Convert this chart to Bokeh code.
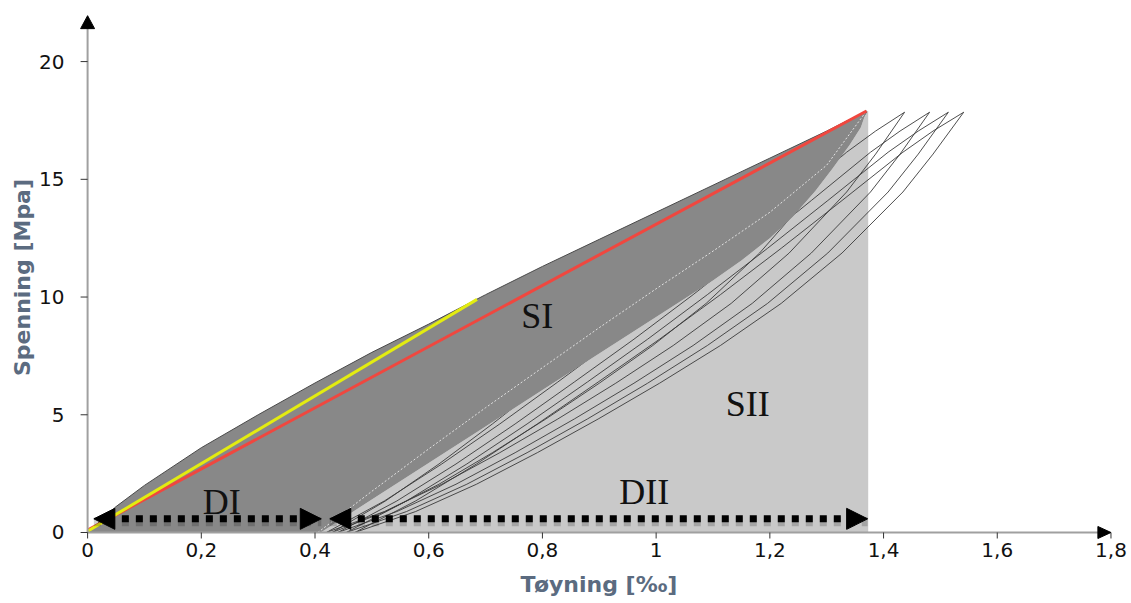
from bokeh.plotting import figure
from bokeh.models import Range1d, FixedTicker, Arrow, NormalHead
from bokeh.core.properties import value
from bokeh.embed import file_html
from bokeh.resources import INLINE

# ---------------- data ----------------
x_ticks = [0, 0.2, 0.4, 0.6, 0.8, 1.0, 1.2, 1.4, 1.6, 1.8]
x_tick_labels = ["0", "0,2", "0,4", "0,6", "0,8", "1", "1,2", "1,4", "1,6", "1,8"]
y_ticks = [0, 5, 10, 15, 20]
y_tick_labels = ["0", "5", "10", "15", "20"]
x_title = "Tøyning [‰]"
y_title = "Spenning [Mpa]"

# SI region (first cycle): loading curve (upper) and dark/light boundary (lower)
si_upper_x = [0, 0.05, 0.1, 0.2, 0.3, 0.4, 0.5, 0.6, 0.7, 0.8, 0.9, 1.0, 1.1, 1.2, 1.3, 1.37]
si_upper_y = [0, 1.1, 2.0, 3.6, 5.0, 6.35, 7.65, 8.85, 10.1, 11.3, 12.45, 13.6, 14.75, 15.9, 17.05, 17.9]
si_lower_x = [0.41, 0.5, 0.6, 0.7, 0.8, 0.9, 1.0, 1.1, 1.15, 1.2, 1.24, 1.28, 1.31, 1.34, 1.36, 1.37]
si_lower_y = [0, 1.4, 2.95, 4.5, 6.05, 7.6, 9.15, 10.7, 11.55, 12.5, 13.4, 14.5, 15.45, 16.45, 17.2, 17.9]
sii_right_x = 1.373

# unloading curve inside SI (dotted)
unload_x = [0.405, 0.5, 0.6, 0.7, 0.8, 0.9, 1.0, 1.1, 1.2, 1.3, 1.37]
unload_y = [0, 1.75, 3.55, 5.3, 7.0, 8.7, 10.35, 11.95, 13.6, 15.6, 17.9]

# secant lines
red_x = [0, 1.37]
red_y = [0.1, 17.9]
yellow_x = [0, 0.685]
yellow_y = [0.05, 9.9]

# later hysteresis loops (loading branch y, unloading branch y, strain grid per loop)
loop_up_y = [0, 1.34, 2.91, 4.61, 6.39, 8.21, 10.10, 12.07, 14.10, 16.15, 17.05, 17.85]
loop_dn_y = [0, 0.89, 2.05, 3.39, 4.82, 6.34, 7.94, 9.73, 11.87, 14.46, 16.07, 17.85]
loopA_x = [0.42, 0.522, 0.623, 0.725, 0.827, 0.929, 1.030, 1.132, 1.234, 1.335, 1.386, 1.437]
loopB_x = [0.44, 0.544, 0.648, 0.752, 0.856, 0.961, 1.065, 1.169, 1.273, 1.377, 1.429, 1.481]
loopC_x = [0.455, 0.561, 0.667, 0.773, 0.879, 0.985, 1.090, 1.196, 1.302, 1.408, 1.461, 1.514]
loopD_x = [0.47, 0.577, 0.684, 0.791, 0.898, 1.006, 1.113, 1.220, 1.327, 1.434, 1.487, 1.541]
loopE_x = [0.43, 0.524, 0.618, 0.712, 0.806, 0.900, 0.994, 1.088, 1.182, 1.276, 1.323, 1.37]

# dimension arrows
di_x = [0.011, 0.411]
dii_x = [0.426, 1.372]
dim_arrow_y = 0.58

# region labels
region_text = ["DI", "DII", "SI", "SII"]
region_x = [0.236, 0.979, 0.791, 1.161]
region_y = [1.30, 1.70, 9.21, 5.45]

# ---------------- figure ----------------
p = figure(frame_width=1041, frame_height=526,
           x_range=Range1d(-0.016, 1.815), y_range=Range1d(-0.34, 22.0),
           output_backend="svg", toolbar_location=None,
           min_border_left=78, min_border_right=8, min_border_top=14, min_border_bottom=63,
           background_fill_color="white", border_fill_color="white")
p.outline_line_color = None
p.xgrid.visible = False
p.ygrid.visible = False

# light SII area
p.patch(si_lower_x + [sii_right_x, sii_right_x], si_lower_y + [si_lower_y[-1], 0],
        fill_color="#c9c9c9", line_color=None)

# loops
for lx in (loopA_x, loopB_x, loopC_x, loopD_x, loopE_x):
    p.line(lx, loop_up_y, line_color="#3a3a3a", line_width=0.9)
    p.line(lx, loop_dn_y, line_color="#3a3a3a", line_width=0.9)

# dark SI area
p.patch(si_upper_x + si_lower_x[::-1], si_upper_y + si_lower_y[::-1],
        fill_color="#888888", line_color=None)
p.line(si_upper_x, si_upper_y, line_color="#4a4a4a", line_width=1)
p.line(unload_x, unload_y, line_color="#e2e2e2", line_width=1, line_dash="2 2")

# secants
p.line(red_x, red_y, line_color="#f0473f", line_width=3)
p.line(yellow_x, yellow_y, line_color="#e3ec10", line_width=3)

# axis lines, ticks and arrowheads (axes cross at the origin)
p.line([0, 0], [0, 21.5], line_color="#a0a0a0", line_width=2)
p.line([0, 1.78], [0, 0], line_color="#a0a0a0", line_width=2)
p.segment(x0=x_ticks, y0=[0] * len(x_ticks), x1=x_ticks, y1=[-0.255] * len(x_ticks),
          line_color="#333333", line_width=1)
p.segment(x0=[0] * len(y_ticks), y0=y_ticks, x1=[-0.0123] * len(y_ticks), y1=y_ticks,
          line_color="#333333", line_width=1)
p.patch([-0.0123, 0.0123, 0], [21.4, 21.4, 21.95], fill_color="black", line_color="black")
p.patch([1.777, 1.777, 1.8], [-0.255, 0.255, 0], fill_color="black", line_color="black")

# dimension arrows (soft shadow + arrow)
for xs in (di_x, dii_x):
    p.add_layout(Arrow(x_start=xs[0], y_start=dim_arrow_y - 0.12, x_end=xs[1], y_end=dim_arrow_y - 0.12,
                       line_color="#000000", line_alpha=0.18, line_width=9, line_dash="7 7",
                       start=None, end=None))
    p.add_layout(Arrow(x_start=xs[0], y_start=dim_arrow_y, x_end=xs[1], y_end=dim_arrow_y,
                       line_color="black", line_width=7, line_dash="7 7",
                       start=NormalHead(size=21, fill_color="black", line_color="black"),
                       end=NormalHead(size=21, fill_color="black", line_color="black")))

# region labels
p.text(x=region_x, y=region_y, text=region_text, text_font=value("Liberation Serif"),
       text_font_size="36px", text_align="center", text_baseline="middle",
       text_color="#111111")

# axes (tick labels and titles)
p.xaxis.ticker = FixedTicker(ticks=x_ticks)
p.xaxis.major_label_overrides = dict(zip(x_ticks, x_tick_labels))
p.yaxis.ticker = FixedTicker(ticks=y_ticks)
p.yaxis.major_label_overrides = dict(zip(y_ticks, y_tick_labels))
p.xaxis.axis_label = x_title
p.yaxis.axis_label = y_title
for ax in (p.xaxis[0], p.yaxis[0]):
    ax.axis_line_color = None
    ax.major_tick_line_color = None
    ax.major_tick_out = 0
    ax.major_tick_in = 0
    ax.minor_tick_line_color = None
    ax.major_label_text_font = "DejaVu Sans"
    ax.major_label_text_font_size = "20px"
    ax.major_label_text_color = "#111111"
    ax.axis_label_text_font = "DejaVu Sans"
    ax.axis_label_text_font_style = "bold"
    ax.axis_label_text_font_size = "22px"
    ax.axis_label_text_color = "#5b6b80"
p.xaxis.major_label_standoff = 2
p.xaxis.axis_label_standoff = 12
p.yaxis.major_label_standoff = 14
p.yaxis.axis_label_standoff = 1

open("out.html", "w").write(file_html(p, INLINE))
